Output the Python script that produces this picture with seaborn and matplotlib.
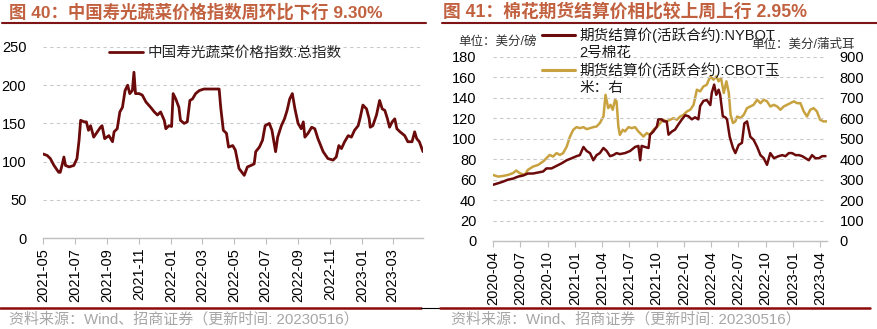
import matplotlib
matplotlib.use("Agg")
import matplotlib.pyplot as plt
from matplotlib.lines import Line2D
import seaborn as sns
import pandas as pd

# ---------------- data ----------------
veg_dates = [
    "2021-05-01", "2021-05-09", "2021-05-15", "2021-05-22", "2021-05-31", "2021-06-03", "2021-06-07",
    "2021-06-10", "2021-06-13", "2021-06-20", "2021-06-29", "2021-07-05", "2021-07-09", "2021-07-12",
    "2021-07-19", "2021-07-23", "2021-07-27", "2021-07-31", "2021-08-06", "2021-08-13", "2021-08-19",
    "2021-08-22", "2021-08-27", "2021-09-04", "2021-09-11", "2021-09-14", "2021-09-20", "2021-09-25",
    "2021-09-30", "2021-10-05", "2021-10-10", "2021-10-14", "2021-10-19", "2021-10-22", "2021-10-25",
    "2021-11-01", "2021-11-07", "2021-11-14", "2021-11-23", "2021-11-30", "2021-12-06", "2021-12-12",
    "2021-12-19", "2021-12-22", "2021-12-28", "2022-01-02", "2022-01-05", "2022-01-10", "2022-01-16",
    "2022-01-19", "2022-01-26", "2022-02-01", "2022-02-06", "2022-02-11", "2022-02-17", "2022-02-24",
    "2022-03-05", "2022-04-03", "2022-04-06", "2022-04-11", "2022-04-17", "2022-04-21", "2022-04-29",
    "2022-05-04", "2022-05-11", "2022-05-21", "2022-05-27", "2022-06-03", "2022-06-09", "2022-06-12",
    "2022-06-19", "2022-06-25", "2022-06-30", "2022-07-08", "2022-07-13", "2022-07-20", "2022-07-24",
    "2022-07-31", "2022-08-06", "2022-08-11", "2022-08-16", "2022-08-21", "2022-08-26", "2022-09-01",
    "2022-09-07", "2022-09-11", "2022-09-14", "2022-09-20", "2022-09-27", "2022-10-03", "2022-10-09",
    "2022-10-19", "2022-10-28", "2022-11-07", "2022-11-13", "2022-11-18", "2022-11-23", "2022-11-29",
    "2022-12-06", "2022-12-12", "2022-12-18", "2022-12-25", "2022-12-29", "2023-01-03", "2023-01-10",
    "2023-01-15", "2023-01-17", "2023-01-22", "2023-01-29", "2023-02-04", "2023-02-09", "2023-02-14",
    "2023-02-19", "2023-02-23", "2023-02-28", "2023-03-05", "2023-03-09", "2023-03-15", "2023-03-24",
    "2023-03-30", "2023-04-07", "2023-04-12", "2023-04-16", "2023-04-21", "2023-04-28",
]
veg_values = [
    110, 108, 104, 95, 86, 86, 97,
    106, 95, 93, 95, 104, 128, 154,
    152, 152, 141, 147, 132, 139, 145,
    147, 130, 134, 126, 139, 143, 165,
    171, 193, 200, 189, 193, 217, 189,
    189, 187, 178, 171, 165, 161, 165,
    154, 143, 147, 146, 189, 182, 171,
    154, 150, 152, 180, 182, 189, 193,
    195, 195, 171, 141, 137, 119, 121,
    115, 91, 82, 93, 95, 97, 113,
    119, 128, 147, 150, 141, 113, 132,
    147, 156, 167, 182, 189, 169, 150,
    143, 152, 132, 137, 145, 143, 130,
    113, 104, 102, 106, 121, 117, 126,
    134, 132, 141, 147, 158, 174, 169,
    156, 145, 147, 161, 180, 169, 167,
    156, 145, 152, 156, 143, 139, 134,
    126, 126, 139, 130, 126, 113,
]
veg_ticks = ["2021-05", "2021-07", "2021-09", "2021-11", "2022-01", "2022-03",
             "2022-05", "2022-07", "2022-09", "2022-11", "2023-01", "2023-03"]

cotton_dates = [
    "2020-04-01", "2020-04-18", "2020-05-04", "2020-05-21", "2020-06-07", "2020-06-24", "2020-07-10",
    "2020-07-27", "2020-08-13", "2020-08-30", "2020-09-16", "2020-09-27", "2020-10-14", "2020-10-31",
    "2020-11-17", "2020-12-04", "2020-12-21", "2021-01-06", "2021-01-17", "2021-01-29", "2021-02-09",
    "2021-02-20", "2021-03-03", "2021-03-14", "2021-03-25", "2021-04-06", "2021-04-17", "2021-04-28",
    "2021-05-09", "2021-05-20", "2021-05-31", "2021-06-17", "2021-07-04", "2021-07-21", "2021-08-01",
    "2021-08-07", "2021-08-12", "2021-08-23", "2021-09-04", "2021-09-09", "2021-09-20", "2021-10-02",
    "2021-10-07", "2021-10-18", "2021-10-26", "2021-11-04", "2021-11-10", "2021-11-21", "2021-12-02",
    "2021-12-13", "2021-12-25", "2022-01-05", "2022-01-16", "2022-01-27", "2022-02-07", "2022-02-18",
    "2022-02-24", "2022-03-07", "2022-03-18", "2022-03-30", "2022-04-04", "2022-04-12", "2022-04-19",
    "2022-04-27", "2022-05-02", "2022-05-11", "2022-05-19", "2022-05-25", "2022-06-03", "2022-06-14",
    "2022-06-22", "2022-07-03", "2022-07-14", "2022-07-22", "2022-07-31", "2022-08-11", "2022-08-22",
    "2022-09-03", "2022-09-14", "2022-09-25", "2022-10-06", "2022-10-17", "2022-10-29", "2022-11-14",
    "2022-11-26", "2022-12-07", "2022-12-18", "2022-12-29", "2023-01-10", "2023-01-21", "2023-02-01",
    "2023-02-12", "2023-02-23", "2023-03-06", "2023-03-17", "2023-03-29", "2023-04-09", "2023-04-20",
]
cotton_values = [
    55, 56.5, 58, 60, 61, 63, 64,
    66, 66, 67, 68, 71, 71, 73.5,
    76, 79, 81, 83, 84, 92, 88,
    86, 79, 84, 86, 91, 88, 83,
    84, 86, 85, 86, 88, 92, 93,
    79, 93, 92, 91, 104, 107, 112,
    119, 119, 117, 117, 104, 107, 109,
    114, 119, 123, 122, 119, 121, 119,
    132, 137, 138, 133, 145, 153, 143,
    148, 143, 122, 121, 119, 102, 91,
    86, 94, 96, 115, 117, 102, 99,
    92, 84, 81, 74.5, 86, 81, 83,
    84, 83, 86, 86, 84, 84, 83,
    81, 79, 84, 81, 81, 83, 83,
]

corn_dates = [
    "2020-04-01", "2020-04-18", "2020-05-04", "2020-05-21", "2020-06-07", "2020-06-18", "2020-06-29",
    "2020-07-16", "2020-07-27", "2020-08-13", "2020-08-30", "2020-09-16", "2020-09-27", "2020-10-08",
    "2020-10-19", "2020-10-31", "2020-11-11", "2020-11-22", "2020-12-04", "2020-12-15", "2020-12-26",
    "2021-01-06", "2021-01-17", "2021-01-29", "2021-02-09", "2021-02-20", "2021-03-03", "2021-03-14",
    "2021-03-25", "2021-04-06", "2021-04-13", "2021-04-22", "2021-04-30", "2021-05-07", "2021-05-15",
    "2021-05-20", "2021-05-26", "2021-05-31", "2021-06-10", "2021-06-17", "2021-06-29", "2021-07-10",
    "2021-07-21", "2021-08-01", "2021-08-18", "2021-08-29", "2021-09-09", "2021-09-20", "2021-10-02",
    "2021-10-13", "2021-10-24", "2021-11-04", "2021-11-15", "2021-11-27", "2021-12-08", "2021-12-19",
    "2021-12-30", "2022-01-11", "2022-01-22", "2022-02-02", "2022-02-13", "2022-02-24", "2022-03-07",
    "2022-03-18", "2022-03-30", "2022-04-10", "2022-04-19", "2022-04-27", "2022-05-05", "2022-05-14",
    "2022-05-23", "2022-05-31", "2022-06-06", "2022-06-14", "2022-06-22", "2022-06-28", "2022-07-09",
    "2022-07-20", "2022-07-31", "2022-08-11", "2022-08-22", "2022-09-03", "2022-09-14", "2022-09-25",
    "2022-10-06", "2022-10-17", "2022-10-29", "2022-11-09", "2022-11-20", "2022-12-01", "2022-12-12",
    "2022-12-23", "2023-01-04", "2023-01-15", "2023-01-26", "2023-02-06", "2023-02-17", "2023-02-28",
    "2023-03-11", "2023-03-22", "2023-04-02", "2023-04-13", "2023-04-24",
]
corn_values = [
    323, 315, 318, 323, 332, 345, 332,
    323, 348, 364, 372, 389, 405, 421,
    413, 430, 421, 430, 462, 511, 544,
    557, 552, 557, 547, 552, 557, 560,
    577, 609, 715, 650, 666, 642, 691,
    683, 560, 519, 544, 536, 557, 552,
    557, 536, 511, 528, 519, 544, 557,
    577, 593, 585, 593, 601, 593, 609,
    617, 634, 642, 666, 740, 732, 756,
    764, 805, 789, 805, 781, 797, 724,
    781, 724, 617, 577, 585, 609, 601,
    617, 650, 658, 666, 691, 674, 691,
    683, 658, 666, 658, 642, 658, 666,
    674, 683, 674, 674, 634, 609, 642,
    650, 634, 593, 585, 585,
]
cot_ticks = ["2020-04", "2020-07", "2020-10", "2021-01", "2021-04", "2021-07", "2021-10",
             "2022-01", "2022-04", "2022-07", "2022-10", "2023-01", "2023-04"]

title_left = "图 40：中国寿光蔬菜价格指数周环比下行 9.30%"
title_right = "图 41：棉花期货结算价相比较上周上行 2.95%"
veg_label = "中国寿光蔬菜价格指数:总指数"
cotton_label = ["期货结算价(活跃合约):NYBOT", "2号棉花"]
corn_label = ["期货结算价(活跃合约):CBOT玉", "米：右"]
unit_left = "单位：美分/磅"
unit_right = "单位：美分/蒲式耳"
source = "资料来源：Wind、招商证券（更新时间: 20230516）"

# ---------------- style ----------------
sns.set_theme(style="white")
FAM = ["Liberation Sans", "Noto Sans CJK SC", "DejaVu Sans"]
plt.rcParams["font.family"] = FAM
plt.rcParams["axes.unicode_minus"] = False

DARK = "#6B0A0A"
GOLD = "#C9A240"
TITLE_C = "#C2613F"
RULE_C = "#7E1416"
GRID_C = "#C9C9C9"
W, H = 877, 329

fig = plt.figure(figsize=(W / 100, H / 100), dpi=100)


def fx(px):
    return px / W


def fy(py):
    return 1 - py / H


def style_axis(ax):
    for s in ["left", "right", "top"]:
        ax.spines[s].set_visible(False)
    ax.spines["bottom"].set_color("#BFBFBF")
    ax.spines["bottom"].set_linewidth(1.0)
    ax.grid(False)
    ax.yaxis.grid(True, color=GRID_C, linestyle=(0, (3, 3)), linewidth=0.8)
    ax.set_axisbelow(True)
    ax.tick_params(axis="y", length=0, pad=12, labelsize=10.5, labelcolor="black")
    ax.tick_params(axis="x", length=4, width=0.8, color="#BFBFBF", pad=3,
                   labelsize=10.5, labelrotation=90, labelcolor="black", direction="out", bottom=True)
    ax.set_xlabel("")
    ax.set_ylabel("")


# ---------------- left chart ----------------
ax1 = fig.add_axes([fx(43), fy(238), fx(380), 191 / H])
df_veg = pd.DataFrame({"date": pd.to_datetime(veg_dates), "value": veg_values})
sns.lineplot(data=df_veg, x="date", y="value", ax=ax1, color=DARK, linewidth=2.0, label=veg_label)
ax1.set_ylim(0, 250)
ax1.set_yticks([0, 50, 100, 150, 200, 250])
ax1.set_xlim(df_veg["date"].min(), df_veg["date"].max())
tk = pd.to_datetime(veg_ticks)
ax1.set_xticks(tk)
ax1.set_xticklabels(veg_ticks)
style_axis(ax1)
ax1.legend(loc="center left", bbox_to_anchor=(fx(109), fy(53)), bbox_transform=fig.transFigure,
           frameon=False, borderpad=0, borderaxespad=0, handlelength=2.3, handletextpad=0.35,
           prop={"size": 10.5})

# ---------------- right chart ----------------
ax2 = fig.add_axes([fx(493), fy(241), fx(334), 184 / H])
ax2r = ax2.twinx()
df_cot = pd.DataFrame({"date": pd.to_datetime(cotton_dates), "value": cotton_values})
df_corn = pd.DataFrame({"date": pd.to_datetime(corn_dates), "value": corn_values})
sns.lineplot(data=df_corn, x="date", y="value", ax=ax2r, color=GOLD, linewidth=1.8, legend=False)
sns.lineplot(data=df_cot, x="date", y="value", ax=ax2, color=DARK, linewidth=1.8, legend=False)
ax2.set_zorder(ax2r.get_zorder() + 1)
ax2.patch.set_visible(False)
ax2.set_ylim(0, 180)
ax2.set_yticks(range(0, 181, 20))
ax2r.set_ylim(0, 900)
ax2r.set_yticks(range(0, 901, 100))
ax2.set_xlim(pd.Timestamp("2020-04-01"), df_cot["date"].max() + pd.Timedelta(days=5))
tk2 = pd.to_datetime(cot_ticks)
ax2.set_xticks(tk2)
ax2.set_xticklabels(cot_ticks)
style_axis(ax2)
for s in ["left", "right", "top", "bottom"]:
    ax2r.spines[s].set_visible(False)
ax2r.grid(False)
ax2r.tick_params(axis="y", length=0, pad=9, labelsize=10.5, labelcolor="black")
ax2r.set_ylabel("")

# legend of the right chart (two-line labels, handle aligned with first line)
for color, lines, y0 in [(DARK, cotton_label, 35), (GOLD, corn_label, 70)]:
    fig.add_artist(Line2D([fx(542), fx(575)], [fy(y0), fy(y0)], color=color, lw=2.2))
    fig.text(fx(579), fy(y0), lines[0], fontsize=10.5, va="center", ha="left", color="#1a1a1a")
    fig.text(fx(579), fy(y0 + 18), lines[1], fontsize=10.5, va="center", ha="left", color="#1a1a1a")

fig.text(fx(458), fy(42), unit_left, fontsize=9, va="center", ha="left", color="#333333")
fig.text(fx(855), fy(45), unit_right, fontsize=9, va="center", ha="right", color="#333333")

# ---------------- titles, rules, sources ----------------
fig.text(fx(9), fy(12), title_left, fontsize=12.5, fontweight="bold", color=TITLE_C, va="center", ha="left")
fig.text(fx(443), fy(12), title_right, fontsize=12.8, fontweight="bold", color=TITLE_C, va="center", ha="left")
fig.add_artist(Line2D([fx(2), fx(426)], [fy(23), fy(23)], color=RULE_C, lw=1.5))
fig.add_artist(Line2D([fx(442), fx(877)], [fy(23), fy(23)], color=RULE_C, lw=1.5))
fig.add_artist(Line2D([fx(0), fx(421)], [fy(308), fy(308)], color="#8B0A0A", lw=1.8))
fig.add_artist(Line2D([fx(421), fx(440)], [fy(307.5), fy(307.5)], color="black", lw=0.8))
fig.add_artist(Line2D([fx(440), fx(870)], [fy(308), fy(308)], color="#8B0A0A", lw=1.8))
fig.text(fx(9), fy(319), source, fontsize=10.8, color="#A6A6A6", va="center", ha="left")
fig.text(fx(451), fy(319), source, fontsize=10.8, color="#A6A6A6", va="center", ha="left")

fig.savefig("out.png", dpi=100)
